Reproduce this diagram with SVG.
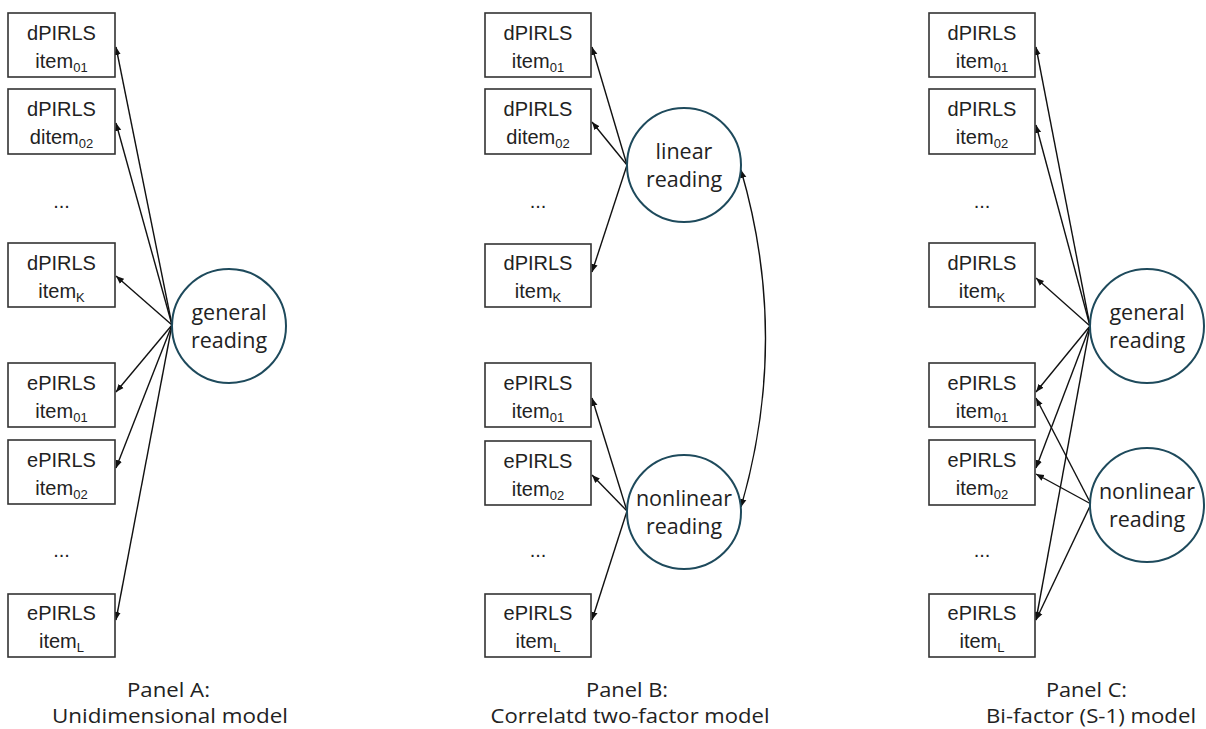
<svg xmlns="http://www.w3.org/2000/svg" width="1206" height="729" viewBox="0 0 1206 729">
<style>
.box{fill:#fff;stroke:#333;stroke-width:1.6}
.lat{fill:#fff;stroke:#1e4a5c;stroke-width:2}
.t{font-family:"Liberation Sans",Arial,sans-serif;font-size:20px;fill:#222;text-anchor:middle}
.lt{font-family:"Open Sans","Liberation Sans",sans-serif;font-size:21.5px;font-weight:500;fill:#222;text-anchor:middle}
.sub{font-size:13px}
.cap{font-family:"Open Sans","Liberation Sans",sans-serif;font-size:20px;fill:#222;text-anchor:middle}
.ln{fill:none;stroke:#111;stroke-width:1.4}
</style>
<defs>
<marker id="ah" viewBox="0 0 10 10" refX="10" refY="5" markerWidth="8" markerHeight="8" markerUnits="userSpaceOnUse" orient="auto-start-reverse">
<path d="M0,1 L10,5 L0,9 z" fill="#111"/>
</marker>
</defs>
<rect width="1206" height="729" fill="#fff"/>

<g id="connectors">
<!-- Panel A -->
<line class="ln" x1="172" y1="325" x2="116" y2="47" marker-end="url(#ah)"/>
<line class="ln" x1="172" y1="325" x2="116" y2="123" marker-end="url(#ah)"/>
<line class="ln" x1="172" y1="325" x2="116" y2="276" marker-end="url(#ah)"/>
<line class="ln" x1="172" y1="325" x2="116" y2="392" marker-end="url(#ah)"/>
<line class="ln" x1="172" y1="325" x2="116" y2="468" marker-end="url(#ah)"/>
<line class="ln" x1="172" y1="325" x2="116" y2="620" marker-end="url(#ah)"/>
<!-- Panel B -->
<line class="ln" x1="627" y1="165" x2="592" y2="47" marker-end="url(#ah)"/>
<line class="ln" x1="627" y1="165" x2="592" y2="122" marker-end="url(#ah)"/>
<line class="ln" x1="627" y1="165" x2="592" y2="272" marker-end="url(#ah)"/>
<line class="ln" x1="627" y1="511" x2="592" y2="398" marker-end="url(#ah)"/>
<line class="ln" x1="627" y1="511" x2="592" y2="475" marker-end="url(#ah)"/>
<line class="ln" x1="627" y1="511" x2="592" y2="620" marker-end="url(#ah)"/>
<path class="ln" d="M741,170 Q790,338 741,507" marker-start="url(#ah)" marker-end="url(#ah)"/>
<!-- Panel C -->
<line class="ln" x1="1090" y1="326" x2="1036" y2="47" marker-end="url(#ah)"/>
<line class="ln" x1="1090" y1="326" x2="1036" y2="125" marker-end="url(#ah)"/>
<line class="ln" x1="1090" y1="326" x2="1036" y2="278" marker-end="url(#ah)"/>
<line class="ln" x1="1090" y1="326" x2="1036" y2="392" marker-end="url(#ah)"/>
<line class="ln" x1="1090" y1="326" x2="1036" y2="468" marker-end="url(#ah)"/>
<line class="ln" x1="1090" y1="326" x2="1036" y2="620" marker-end="url(#ah)"/>
<line class="ln" x1="1091" y1="504" x2="1036" y2="398" marker-end="url(#ah)"/>
<line class="ln" x1="1091" y1="504" x2="1036" y2="474" marker-end="url(#ah)"/>
<line class="ln" x1="1091" y1="504" x2="1036" y2="620" marker-end="url(#ah)"/>
</g>

<!-- Panel A nodes -->
<g id="a_d01"><rect class="box" x="8" y="13" width="107" height="64"/><text class="t" x="61.5" y="40">dPIRLS</text><text class="t" x="61.5" y="68">item<tspan class="sub" dy="4">01</tspan></text></g>
<g id="a_d02"><rect class="box" x="8" y="89" width="107" height="65"/><text class="t" x="61.5" y="116">dPIRLS</text><text class="t" x="61.5" y="144">ditem<tspan class="sub" dy="4">02</tspan></text></g>
<g id="a_ddots"><text class="t" x="61.5" y="208">...</text></g>
<g id="a_dK"><rect class="box" x="8" y="243" width="107" height="64"/><text class="t" x="61.5" y="270">dPIRLS</text><text class="t" x="61.5" y="298">item<tspan class="sub" dy="4">K</tspan></text></g>
<g id="a_e01"><rect class="box" x="8" y="363" width="107" height="64"/><text class="t" x="61.5" y="390">ePIRLS</text><text class="t" x="61.5" y="418">item<tspan class="sub" dy="4">01</tspan></text></g>
<g id="a_e02"><rect class="box" x="8" y="440" width="107" height="64"/><text class="t" x="61.5" y="467">ePIRLS</text><text class="t" x="61.5" y="495">item<tspan class="sub" dy="4">02</tspan></text></g>
<g id="a_edots"><text class="t" x="61.5" y="557">...</text></g>
<g id="a_eL"><rect class="box" x="8" y="594" width="107" height="63"/><text class="t" x="61.5" y="620">ePIRLS</text><text class="t" x="61.5" y="648">item<tspan class="sub" dy="4">L</tspan></text></g>
<g id="a_general"><circle class="lat" cx="229" cy="326" r="57"/><text class="lt" x="229" y="320">general</text><text class="lt" x="229" y="348">reading</text></g>
<g id="a_caption"><text class="cap" x="168.5" y="697" textLength="83" lengthAdjust="spacingAndGlyphs">Panel A:</text><text class="cap" x="170" y="723" textLength="236" lengthAdjust="spacingAndGlyphs">Unidimensional model</text></g>

<!-- Panel B nodes -->
<g id="b_d01"><rect class="box" x="485" y="13" width="106" height="64"/><text class="t" x="538" y="40">dPIRLS</text><text class="t" x="538" y="68">item<tspan class="sub" dy="4">01</tspan></text></g>
<g id="b_d02"><rect class="box" x="485" y="89" width="106" height="65"/><text class="t" x="538" y="116">dPIRLS</text><text class="t" x="538" y="144">ditem<tspan class="sub" dy="4">02</tspan></text></g>
<g id="b_ddots"><text class="t" x="538" y="208">...</text></g>
<g id="b_dK"><rect class="box" x="485" y="244" width="106" height="63"/><text class="t" x="538" y="270">dPIRLS</text><text class="t" x="538" y="298">item<tspan class="sub" dy="4">K</tspan></text></g>
<g id="b_e01"><rect class="box" x="485" y="363" width="106" height="64"/><text class="t" x="538" y="390">ePIRLS</text><text class="t" x="538" y="418">item<tspan class="sub" dy="4">01</tspan></text></g>
<g id="b_e02"><rect class="box" x="485" y="441" width="106" height="64"/><text class="t" x="538" y="468">ePIRLS</text><text class="t" x="538" y="496">item<tspan class="sub" dy="4">02</tspan></text></g>
<g id="b_edots"><text class="t" x="538" y="557">...</text></g>
<g id="b_eL"><rect class="box" x="485" y="594" width="106" height="63"/><text class="t" x="538" y="620">ePIRLS</text><text class="t" x="538" y="648">item<tspan class="sub" dy="4">L</tspan></text></g>
<g id="b_linear"><circle class="lat" cx="684" cy="165" r="57"/><text class="lt" x="684" y="159">linear</text><text class="lt" x="684" y="187">reading</text></g>
<g id="b_nonlinear"><circle class="lat" cx="684" cy="512" r="57"/><text class="lt" x="684" y="506">nonlinear</text><text class="lt" x="684" y="534">reading</text></g>
<g id="b_caption"><text class="cap" x="627" y="697" textLength="82" lengthAdjust="spacingAndGlyphs">Panel B:</text><text class="cap" x="630" y="723" textLength="279" lengthAdjust="spacingAndGlyphs">Correlatd two-factor model</text></g>

<!-- Panel C nodes -->
<g id="c_d01"><rect class="box" x="929" y="13" width="106" height="64"/><text class="t" x="982" y="40">dPIRLS</text><text class="t" x="982" y="68">item<tspan class="sub" dy="4">01</tspan></text></g>
<g id="c_d02"><rect class="box" x="929" y="89" width="106" height="65"/><text class="t" x="982" y="116">dPIRLS</text><text class="t" x="982" y="144">item<tspan class="sub" dy="4">02</tspan></text></g>
<g id="c_ddots"><text class="t" x="982" y="208">...</text></g>
<g id="c_dK"><rect class="box" x="929" y="243" width="106" height="64"/><text class="t" x="982" y="270">dPIRLS</text><text class="t" x="982" y="298">item<tspan class="sub" dy="4">K</tspan></text></g>
<g id="c_e01"><rect class="box" x="929" y="363" width="106" height="64"/><text class="t" x="982" y="390">ePIRLS</text><text class="t" x="982" y="418">item<tspan class="sub" dy="4">01</tspan></text></g>
<g id="c_e02"><rect class="box" x="929" y="440" width="106" height="65"/><text class="t" x="982" y="467">ePIRLS</text><text class="t" x="982" y="495">item<tspan class="sub" dy="4">02</tspan></text></g>
<g id="c_edots"><text class="t" x="982" y="557">...</text></g>
<g id="c_eL"><rect class="box" x="929" y="594" width="106" height="63"/><text class="t" x="982" y="620">ePIRLS</text><text class="t" x="982" y="648">item<tspan class="sub" dy="4">L</tspan></text></g>
<g id="c_general"><circle class="lat" cx="1147" cy="326" r="57"/><text class="lt" x="1147" y="320">general</text><text class="lt" x="1147" y="348">reading</text></g>
<g id="c_nonlinear"><circle class="lat" cx="1147" cy="505" r="57"/><text class="lt" x="1147" y="499">nonlinear</text><text class="lt" x="1147" y="527">reading</text></g>
<g id="c_caption"><text class="cap" x="1086.5" y="697" textLength="81" lengthAdjust="spacingAndGlyphs">Panel C:</text><text class="cap" x="1091" y="723" textLength="210" lengthAdjust="spacingAndGlyphs">Bi-factor (S-1) model</text></g>
</svg>
